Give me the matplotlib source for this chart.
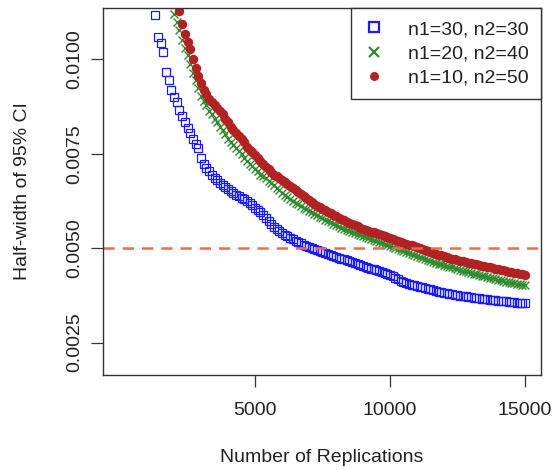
import numpy as np
import matplotlib
matplotlib.use("Agg")
import matplotlib.pyplot as plt
from matplotlib.lines import Line2D

plt.rcParams['font.family'] = ['Liberation Sans', 'DejaVu Sans']

# ---- data (half-width of 95% CI per replication count) ----
labels = ["n1=30, n2=30", "n1=20, n2=40", "n1=10, n2=50"]

reps_a = np.arange(1300, 15001, 100)
half_a = [
    0.01118, 0.01060, 0.01044, 0.01020, 0.00967, 0.00944, 0.00920, 0.00899, 0.00888, 0.00867,
    0.00849, 0.00835, 0.00817, 0.00804, 0.00790, 0.00775, 0.00764, 0.00740, 0.00722, 0.00711,
    0.00703, 0.00695, 0.00687, 0.00680, 0.00672, 0.00666, 0.00661, 0.00656, 0.00651, 0.00645,
    0.00641, 0.00637, 0.00633, 0.00629, 0.00624, 0.00619, 0.00613, 0.00607, 0.00601, 0.00595,
    0.00587, 0.00579, 0.00571, 0.00564, 0.00557, 0.00551, 0.00546, 0.00540, 0.00535, 0.00531,
    0.00527, 0.00523, 0.00519, 0.00516, 0.00513, 0.00509, 0.00506, 0.00503, 0.00500, 0.00497,
    0.00495, 0.00492, 0.00489, 0.00487, 0.00484, 0.00482, 0.00479, 0.00476, 0.00474, 0.00471,
    0.00470, 0.00468, 0.00466, 0.00463, 0.00460, 0.00458, 0.00455, 0.00452, 0.00450, 0.00448,
    0.00446, 0.00444, 0.00442, 0.00439, 0.00437, 0.00434, 0.00431, 0.00428, 0.00425, 0.00421,
    0.00418, 0.00414, 0.00411, 0.00408, 0.00405, 0.00403, 0.00402, 0.00400, 0.00398, 0.00397,
    0.00394, 0.00392, 0.00391, 0.00389, 0.00387, 0.00385, 0.00384, 0.00382, 0.00381, 0.00379,
    0.00378, 0.00377, 0.00376, 0.00374, 0.00373, 0.00372, 0.00371, 0.00370, 0.00369, 0.00368,
    0.00367, 0.00366, 0.00365, 0.00364, 0.00363, 0.00363, 0.00362, 0.00361, 0.00360, 0.00360,
    0.00359, 0.00358, 0.00357, 0.00357, 0.00356, 0.00355, 0.00355, 0.00354,
]

reps_b = np.arange(2000, 15001, 100)
half_b = [
    0.01121, 0.01099, 0.01078, 0.01052, 0.01031, 0.01012, 0.00989, 0.00965, 0.00944, 0.00925,
    0.00904, 0.00891, 0.00878, 0.00864, 0.00854, 0.00843, 0.00833, 0.00822, 0.00812, 0.00801,
    0.00790, 0.00780, 0.00772, 0.00764, 0.00756, 0.00748, 0.00740, 0.00732, 0.00724, 0.00717,
    0.00709, 0.00703, 0.00695, 0.00690, 0.00685, 0.00677, 0.00672, 0.00666, 0.00658, 0.00653,
    0.00645, 0.00640, 0.00635, 0.00629, 0.00624, 0.00619, 0.00616, 0.00611, 0.00606, 0.00603,
    0.00598, 0.00595, 0.00590, 0.00587, 0.00582, 0.00579, 0.00574, 0.00571, 0.00569, 0.00563,
    0.00561, 0.00558, 0.00553, 0.00550, 0.00547, 0.00545, 0.00542, 0.00540, 0.00537, 0.00534,
    0.00532, 0.00529, 0.00526, 0.00524, 0.00521, 0.00518, 0.00516, 0.00513, 0.00511, 0.00508,
    0.00505, 0.00503, 0.00500, 0.00497, 0.00495, 0.00492, 0.00489, 0.00487, 0.00484, 0.00482,
    0.00479, 0.00476, 0.00474, 0.00471, 0.00468, 0.00466, 0.00463, 0.00461, 0.00459, 0.00457,
    0.00455, 0.00452, 0.00450, 0.00449, 0.00447, 0.00444, 0.00442, 0.00440, 0.00439, 0.00437,
    0.00434, 0.00432, 0.00431, 0.00429, 0.00427, 0.00426, 0.00423, 0.00422, 0.00421, 0.00418,
    0.00416, 0.00415, 0.00413, 0.00411, 0.00410, 0.00408, 0.00407, 0.00405, 0.00404, 0.00403,
    0.00402,
]

reps_c = np.arange(2200, 15001, 100)
half_c = [
    0.01129, 0.01094, 0.01068, 0.01047, 0.01028, 0.01002, 0.00978, 0.00957, 0.00938, 0.00920,
    0.00907, 0.00896, 0.00888, 0.00878, 0.00870, 0.00862, 0.00854, 0.00843, 0.00833, 0.00822,
    0.00812, 0.00804, 0.00796, 0.00788, 0.00780, 0.00769, 0.00761, 0.00754, 0.00746, 0.00738,
    0.00730, 0.00722, 0.00714, 0.00709, 0.00701, 0.00695, 0.00690, 0.00685, 0.00680, 0.00674,
    0.00669, 0.00664, 0.00658, 0.00653, 0.00648, 0.00643, 0.00637, 0.00632, 0.00627, 0.00621,
    0.00616, 0.00611, 0.00608, 0.00603, 0.00600, 0.00595, 0.00592, 0.00587, 0.00585, 0.00579,
    0.00577, 0.00574, 0.00569, 0.00566, 0.00563, 0.00561, 0.00558, 0.00553, 0.00550, 0.00547,
    0.00545, 0.00544, 0.00542, 0.00540, 0.00537, 0.00534, 0.00532, 0.00529, 0.00526, 0.00524,
    0.00521, 0.00518, 0.00516, 0.00513, 0.00511, 0.00509, 0.00507, 0.00505, 0.00503, 0.00500,
    0.00497, 0.00495, 0.00492, 0.00489, 0.00487, 0.00485, 0.00483, 0.00481, 0.00479, 0.00476,
    0.00474, 0.00472, 0.00470, 0.00468, 0.00467, 0.00465, 0.00463, 0.00461, 0.00460, 0.00458,
    0.00457, 0.00455, 0.00453, 0.00452, 0.00450, 0.00449, 0.00447, 0.00445, 0.00444, 0.00442,
    0.00441, 0.00439, 0.00438, 0.00436, 0.00435, 0.00434, 0.00432, 0.00431, 0.00429,
]

target = 0.005
x_ticks = [5000, 10000, 15000]
y_ticks = [0.0025, 0.0050, 0.0075, 0.0100]
y_ticklabels = ["0.0025", "0.0050", "0.0075", "0.0100"]

# ---- styling ----
c_a, c_b, c_c = "#1a1aff", "#2e8b2e", "#b22222"
c_line = "#f4694f"
ink = "#333333"

fig = plt.figure(figsize=(5.56, 4.70), dpi=100)
ax = fig.add_axes([103 / 556, 95 / 470, 438 / 556, 367 / 470])

ax.plot(reps_a, half_a, linestyle="none", marker="s", markersize=5.9,
        markerfacecolor="none", markeredgecolor=c_a, markeredgewidth=0.9)
ax.plot(reps_b, half_b, linestyle="none", marker="x", markersize=5.6,
        color=c_b, markeredgewidth=1.0)
ax.plot(reps_c, half_c, linestyle="none", marker="o", markersize=6.8,
        color=c_c, markeredgewidth=0)

ax.axhline(target, color=c_line, linestyle=(0, (4.5, 3.2)), linewidth=1.8)

ax.set_xlim(-630, 15593)
ax.set_ylim(0.00164, 0.01136)

ax.set_xticks(x_ticks)
ax.set_xticklabels([str(v) for v in x_ticks])
ax.set_yticks(y_ticks)
ax.set_yticklabels(y_ticklabels, rotation=90, va="center")
ax.tick_params(axis="both", direction="out", length=8.5, width=0.9,
               color=ink, labelsize=14, labelcolor="#222222")
ax.tick_params(axis="x", pad=11)
ax.tick_params(axis="y", pad=6)
for sp in ax.spines.values():
    sp.set_color(ink)
    sp.set_linewidth(1.0)

fig.text(322 / 556, 1 - 457 / 470, "Number of Replications", ha="center",
         va="center", fontsize=14, color="#222222")
fig.text(23 / 556, 1 - 191 / 470, "Half-width of 95% CI", ha="center",
         va="center", rotation=90, fontsize=14, color="#222222")

handles = [
    Line2D([], [], linestyle="none", marker="s", markersize=6.5,
           markerfacecolor="none", markeredgecolor=c_a, markeredgewidth=1.6),
    Line2D([], [], linestyle="none", marker="x", markersize=6.5,
           color=c_b, markeredgewidth=1.6),
    Line2D([], [], linestyle="none", marker="o", markersize=6.5,
           color=c_c, markeredgewidth=0),
]
leg = ax.legend(handles, labels, loc="upper right", borderaxespad=0,
                fontsize=14, frameon=True, fancybox=False, framealpha=1,
                edgecolor=ink, handlelength=1.0, handletextpad=1.25,
                labelspacing=0.34, borderpad=0.65)
leg.get_frame().set_linewidth(1.0)
for t in leg.get_texts():
    t.set_color("#222222")

fig.savefig("out.png", dpi=100)
